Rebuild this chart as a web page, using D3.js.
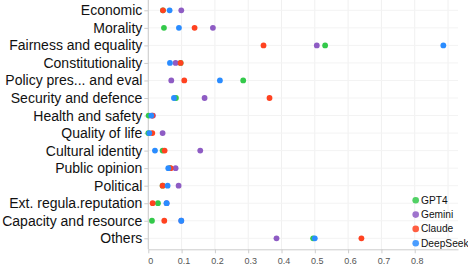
<!DOCTYPE html>
<html><head><meta charset="utf-8">
<script src="https://cdn.jsdelivr.net/npm/d3@7/dist/d3.min.js"></script>
<style>body{margin:0;background:#fff}svg{display:block}</style>
</head><body><svg id="c" width="468" height="272"></svg>
<script>
const categories = ["Economic","Morality","Fairness and equality","Constitutionality","Policy pres... and eval","Security and defence","Health and safety","Quality of life","Cultural identity","Public opinion","Political","Ext. regula.reputation","Capacity and resource","Others"];
const seriesNames = ["GPT4","Gemini","Claude","DeepSeek"];
const colors = ["#33c94a","#8e5cc4","#ff4220","#2a8cff"];
const gpt4     = [0.044,0.047,0.531,0.097,0.285,0.083,0.001,0.000,0.043,0.065,0.043,0.029,0.011,0.495];
const gemini   = [0.099,0.194,0.506,0.082,0.069,0.169,0.014,0.043,0.156,0.082,0.091,0.055,0.099,0.385];
const claude   = [0.044,0.139,0.346,0.097,0.108,0.364,0.012,0.012,0.049,0.067,0.043,0.013,0.048,0.640];
const deepseek = [0.064,0.092,0.886,0.065,0.215,0.077,0.009,0.003,0.020,0.060,0.058,0.055,0.099,0.500];
const xTicks = [0,0.1,0.2,0.3,0.4,0.5,0.6,0.7,0.8];
const gridTicks = [0,0.1,0.2,0.3,0.4,0.5,0.6,0.7,0.8,0.9];
const series = [gpt4,gemini,claude,deepseek];

const svg = d3.select("#c");
const x = d3.scaleLinear().domain([0,0.93]).range([148.3,458]);
const y = d3.scalePoint().domain(categories).range([10.3,238.3]);
const axisY = 249.3;

// grid
svg.append("g").selectAll("line.v").data(gridTicks).join("line")
  .attr("x1",d=>x(d)).attr("x2",d=>x(d)).attr("y1",0).attr("y2",axisY)
  .attr("stroke","#f0f0f0").attr("stroke-width",1);
svg.append("g").selectAll("line.h").data(categories).join("line")
  .attr("x1",x(0)).attr("x2",458).attr("y1",d=>y(d)).attr("y2",d=>y(d))
  .attr("stroke","#f3f3f3").attr("stroke-width",1);

// x axis
const xa = svg.append("g").attr("transform",`translate(0,${axisY})`)
  .call(d3.axisBottom(x).tickValues(xTicks).tickSize(4).tickSizeOuter(0).tickFormat(d=>d===0?"0":d3.format(".1f")(d)));
xa.select(".domain").attr("stroke","#cccccc");
xa.selectAll(".tick line").attr("stroke","#cccccc");
xa.selectAll(".tick text").attr("fill","#555").attr("font-family","Liberation Sans, Arial, sans-serif").attr("font-size",9).attr("dx",2).attr("dy","0.9em");

// y axis
const ya = svg.append("g").attr("transform",`translate(${x(0)},0)`)
  .call(d3.axisLeft(y).tickSize(4).tickSizeOuter(0).tickPadding(2));
ya.select(".domain").attr("stroke","#cccccc").attr("d",`M0,0V${axisY}`);
ya.selectAll(".tick line").attr("stroke","#cccccc");
ya.selectAll(".tick text").attr("fill","#111").attr("font-family","Liberation Sans, Arial, sans-serif").attr("font-size",14);

// dots
series.forEach((vals,si)=>{
  svg.append("g").selectAll("circle").data(vals).join("circle")
    .attr("cx",d=>x(d)).attr("cy",(d,i)=>y(categories[i])).attr("r",2.9)
    .attr("fill",colors[si]);
});

// legend
const lg = svg.append("g");
seriesNames.forEach((n,i)=>{
  const ly = 200.3 + i*14.3;
  lg.append("circle").attr("cx",415.7).attr("cy",ly).attr("r",3.3).attr("fill",colors[i]).attr("opacity",0.85);
  lg.append("text").attr("x",421).attr("y",ly).attr("dy","0.35em").text(n)
    .attr("font-family","Liberation Sans, Arial, sans-serif").attr("font-size",10.2).attr("fill","#111");
});
</script></body></html>
